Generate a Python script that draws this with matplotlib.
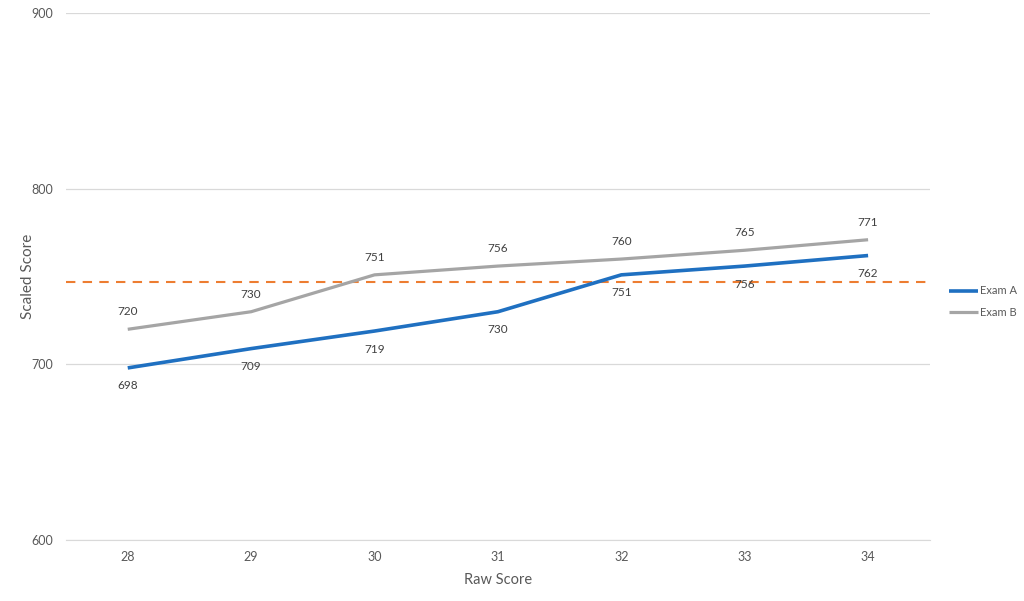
import matplotlib
matplotlib.use("Agg")
import matplotlib.pyplot as plt

raw_scores = ["28", "29", "30", "31", "32", "33", "34"]
exam_a = [698, 709, 719, 730, 751, 756, 762]
exam_b = [720, 730, 751, 756, 760, 765, 771]
cut_score = 747
y_ticks = [600, 700, 800, 900]

plt.rcParams['font.family'] = ['Lato', 'DejaVu Sans']
txt = '#595959'

fig = plt.figure(figsize=(10.24, 6.01), dpi=100)
ax = fig.add_axes([0.0645, 0.1015, 0.8435, 0.8765])
x = list(range(len(raw_scores)))

la, = ax.plot(x, exam_a, color='#1F70C1', lw=2.6, label='Exam A', solid_capstyle='butt', zorder=3)
lb, = ax.plot(x, exam_b, color='#A5A5A5', lw=2.3, label='Exam B', solid_capstyle='butt', zorder=3)
ax.axhline(cut_score, color='#ED7D31', lw=1.5, ls=(0, (4.5, 3.5)), zorder=2)

for xi, v in zip(x, exam_a):
    ax.annotate(str(v), (xi, v), xytext=(0, -13), textcoords='offset points',
                ha='center', va='center', fontsize=8.5, color='#404040')
for xi, v in zip(x, exam_b):
    ax.annotate(str(v), (xi, v), xytext=(0, 12.5), textcoords='offset points',
                ha='center', va='center', fontsize=8.5, color='#404040')

ax.set_xlim(-0.5, len(raw_scores) - 0.5)
ax.set_ylim(600, 900)
ax.set_yticks(y_ticks)
ax.set_xticks(x)
ax.set_xticklabels(raw_scores)
ax.grid(axis='y', color='#D9D9D9', lw=0.9)
ax.set_axisbelow(True)
for s in ['top', 'right', 'left']:
    ax.spines[s].set_visible(False)
ax.spines['bottom'].set_color('#D9D9D9')
ax.tick_params(axis='both', length=0, labelsize=9, colors=txt)
ax.tick_params(axis='x', pad=8)
ax.tick_params(axis='y', pad=9)
ax.set_xlabel('Raw Score', fontsize=10.5, color=txt, labelpad=7)
ax.set_ylabel('Scaled Score', fontsize=11, color=txt, labelpad=-2)

leg = fig.legend(handles=[la, lb], loc='center left', bbox_to_anchor=(0.927, 0.498),
                 frameon=False, fontsize=8, handlelength=2.6, handletextpad=0.2,
                 labelspacing=0.95, borderaxespad=0, borderpad=0)
for t in leg.get_texts():
    t.set_color(txt)

fig.savefig('out.png', dpi=100)
